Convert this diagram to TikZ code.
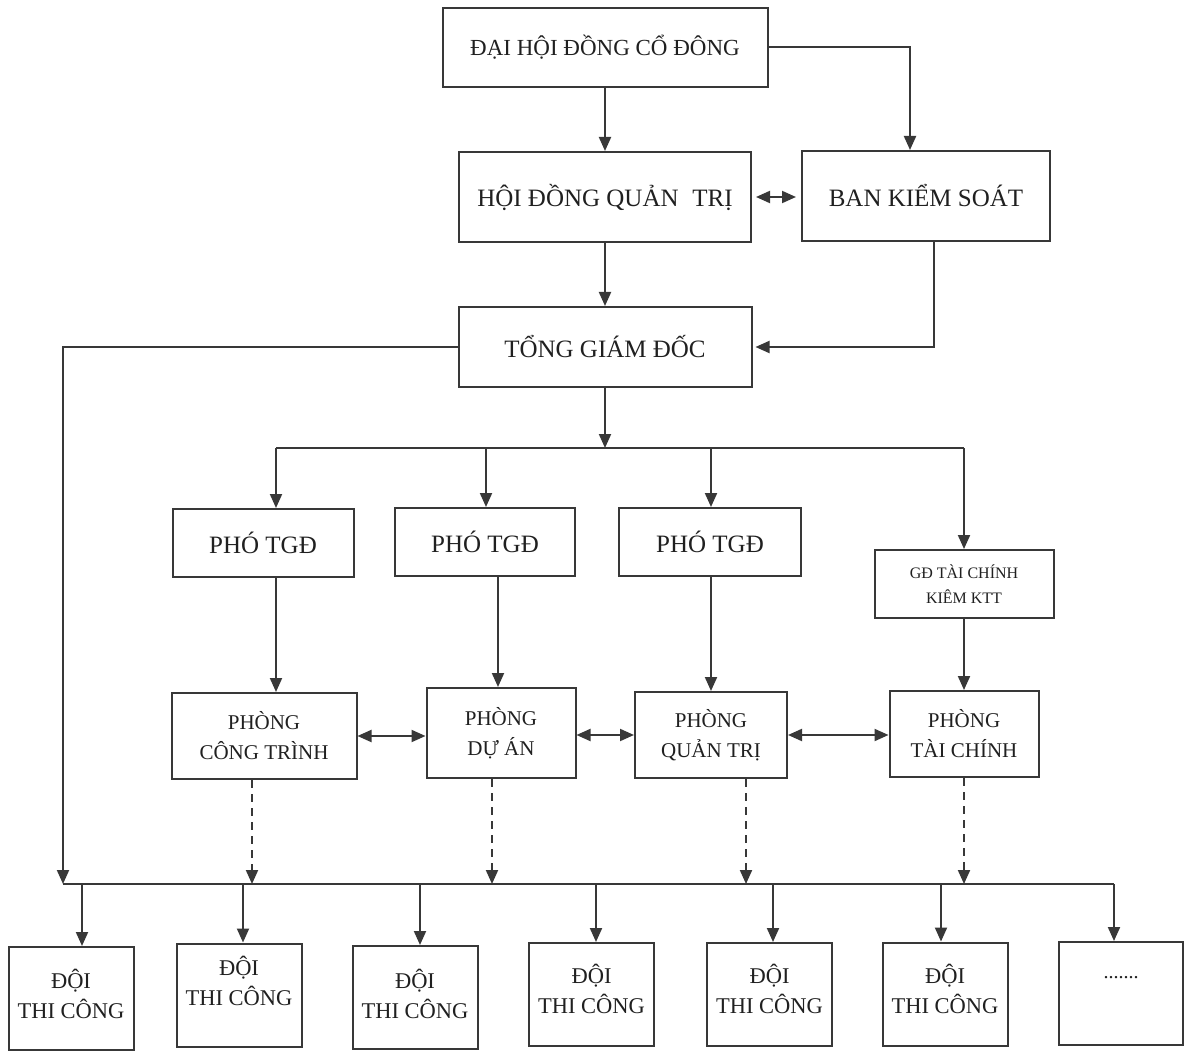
\documentclass[tikz,border=0pt]{standalone}
\usepackage{fontspec}
\setmainfont{Liberation Serif}
\usetikzlibrary{arrows.meta}
\definecolor{ink}{HTML}{383838}
\definecolor{txt}{HTML}{202020}
\begin{document}
\begin{tikzpicture}[x=1pt,y=-1pt,
  box/.style={draw=ink, line width=2pt, inner sep=0pt, align=center, text=txt},
  arr/.style={draw=ink, line width=2pt, -{Triangle[length=14pt,width=12pt]}},
  darr/.style={draw=ink, line width=2pt, {Triangle[length=14pt,width=12pt]}-{Triangle[length=14pt,width=12pt]}},
  dasharr/.style={arr, dash pattern=on 8pt off 6pt},
  bus/.style={draw=ink, line width=2pt},
  big/.style={font=\fontsize{25}{30}\selectfont},
  mid/.style={font=\fontsize{21}{30}\selectfont},
  doi/.style={box, minimum width=125pt, minimum height=103pt, font=\fontsize{22.5}{30}\selectfont}]
\useasboundingbox[fill=white] (0,0) rectangle (1184,1051);

% top level
\node[box, minimum width=325pt, minimum height=79pt, font=\fontsize{23}{27}\selectfont] (dhdcd) at (605,47.5) {ĐẠI HỘI ĐỒNG CỔ ĐÔNG};
\node[box, big, minimum width=292pt, minimum height=90pt] (hdqt) at (605,197) {HỘI ĐỒNG QUẢN\hspace{0.3em} TRỊ};
\node[box, big, minimum width=248pt, minimum height=90pt] (bks) at (926,196) {BAN KIỂM SOÁT};
\node[box, big, minimum width=293pt, minimum height=80pt] (tgd) at (605,347) {TỔNG GIÁM ĐỐC};

% deputies
\node[box, big, minimum width=181pt, minimum height=68pt] (pho1) at (263,543) {PHÓ TGĐ};
\node[box, big, minimum width=180pt, minimum height=68pt] (pho2) at (485,542) {PHÓ TGĐ};
\node[box, big, minimum width=182pt, minimum height=68pt] (pho3) at (710,542) {PHÓ TGĐ};
\node[box, minimum width=179pt, minimum height=68pt, font=\fontsize{16}{25}\selectfont] (gdtc) at (964,584) {GĐ TÀI CHÍNH\\KIÊM KTT};

% departments
\node[box, mid, minimum width=185pt, minimum height=86pt] (pct) at (264,736) {PHÒNG\\CÔNG TRÌNH};
\node[box, mid, minimum width=149pt, minimum height=90pt] (pda) at (501,733) {PHÒNG\\DỰ ÁN};
\node[box, mid, minimum width=152pt, minimum height=86pt] (pqt) at (711,735) {PHÒNG\\QUẢN TRỊ};
\node[box, mid, minimum width=149pt, minimum height=86pt] (ptc) at (964,734) {PHÒNG\\TÀI CHÍNH};

% teams
\node[doi, text depth=9pt] (doi1) at (71,998.5) {ĐỘI\\THI CÔNG};
\node[doi, text depth=28pt] (doi2) at (239,995) {ĐỘI\\THI CÔNG};
\node[doi, text depth=7pt] (doi3) at (415,997.5) {ĐỘI\\THI CÔNG};
\node[doi, text depth=11pt] (doi4) at (591.5,994.5) {ĐỘI\\THI CÔNG};
\node[doi, text depth=12pt] (doi5) at (769.5,994.5) {ĐỘI\\THI CÔNG};
\node[doi, text depth=11pt] (doi6) at (945,994) {ĐỘI\\THI CÔNG};
\node[doi, minimum width=124pt, text depth=33pt, font=\fontsize{20}{24}\selectfont] (doi7) at (1121,993.5) {.......};

% bus coordinates
\coordinate (t1) at (605,448);
\coordinate (b1a) at (276,448);
\coordinate (b1b) at (486,448);
\coordinate (b1c) at (711,448);
\coordinate (b1d) at (964,448);
\coordinate (bl) at (63,884);
\coordinate (br) at (1114,884);
\coordinate (d1) at (252,884);
\coordinate (d2) at (492,884);
\coordinate (d3) at (746,884);
\coordinate (d4) at (964,884);
\coordinate (e1) at (82,884);
\coordinate (e2) at (243,884);
\coordinate (e3) at (420,884);
\coordinate (e4) at (596,884);
\coordinate (e5) at (773,884);
\coordinate (e6) at (941,884);
\coordinate (e7) at (1114,884);

% upper connectors
\draw[arr] (dhdcd.south) -- (dhdcd.south |- hdqt.north);
\draw[arr] (dhdcd.east) -| ([xshift=-16pt]bks.north);
\draw[darr, shorten <=4pt, shorten >=5pt] (hdqt.east) -- (hdqt.east -| bks.west);
\draw[arr] (hdqt.south) -- (hdqt.south |- tgd.north);
\draw[arr, shorten >=3pt] ([xshift=8pt]bks.south) |- (tgd.east);
\draw[arr] (tgd.west) -| (bl);
\draw[arr] (tgd.south -| t1) -- (t1);

% bus 1 and deputies
\draw[bus] (b1a) -- (b1d);
\draw[arr] (b1a) -- (b1a |- pho1.north);
\draw[arr] (b1b) -- (b1b |- pho2.north);
\draw[arr] (b1c) -- (b1c |- pho3.north);
\draw[arr] (b1d) -- (b1d |- gdtc.north);

% deputies to departments
\draw[arr] (pho1.south -| b1a) -- (pct.north -| b1a);
\draw[arr] ([xshift=13pt]pho2.south) -- ([xshift=13pt]pho2.south |- pda.north);
\draw[arr] (pho3.south -| b1c) -- (pqt.north -| b1c);
\draw[arr] (gdtc.south) -- (ptc.north);

% between departments
\draw[darr] (pct.east) -- (pct.east -| pda.west);
\draw[darr] (pqt.west -| pda.east) -- (pqt.west);
\draw[darr] (pqt.east) -- (pqt.east -| ptc.west);

% dashed to bus 2
\draw[dasharr] (pct.south -| d1) -- (d1);
\draw[dasharr] (pda.south -| d2) -- (d2);
\draw[dasharr] (pqt.south -| d3) -- (d3);
\draw[dasharr] (ptc.south -| d4) -- (d4);

% bus 2 and teams
\draw[bus] (bl) -- (br);
\draw[arr] (e1) -- (e1 |- doi1.north);
\draw[arr] (e2) -- (e2 |- doi2.north);
\draw[arr] (e3) -- (e3 |- doi3.north);
\draw[arr] (e4) -- (e4 |- doi4.north);
\draw[arr] (e5) -- (e5 |- doi5.north);
\draw[arr] (e6) -- (e6 |- doi6.north);
\draw[arr] (e7) -- (e7 |- doi7.north);
\end{tikzpicture}
\end{document}
